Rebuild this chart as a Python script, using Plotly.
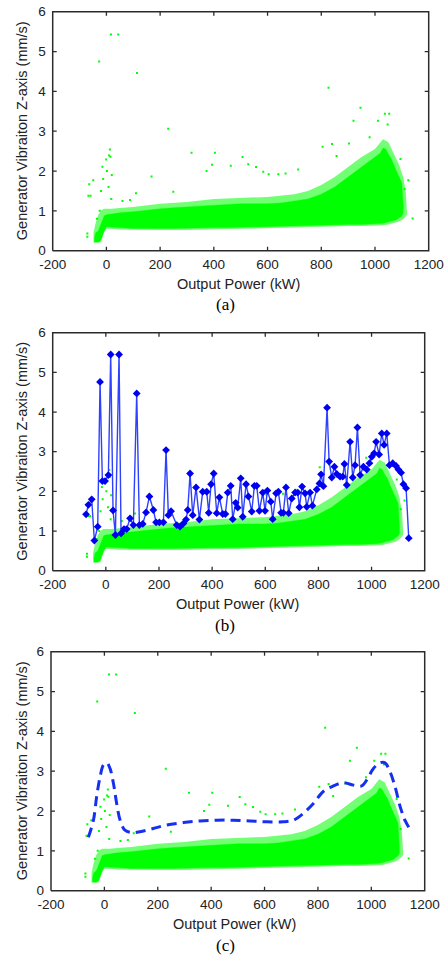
import plotly.graph_objects as go

# ---------------- data ----------------
# dense core of the green point cloud (envelope)
core_x = [-45, -40, -30, -22, -15, -8, 0, 20, 50, 100, 150, 200, 250, 300, 350, 400, 450, 500, 550,
          600, 650, 700, 750, 800, 850, 900, 950, 980, 1000, 1020, 1030, 1040, 1050, 1060, 1070, 1080,
          1090, 1100, 1105]
core_top = [0.30, 0.45, 0.50, 0.65, 0.80, 0.88, 0.90, 0.92, 0.95, 0.98, 1.02, 1.05, 1.08, 1.10, 1.12,
            1.15, 1.17, 1.18, 1.18, 1.18, 1.20, 1.25, 1.30, 1.42, 1.60, 1.85, 2.10, 2.25, 2.35, 2.45,
            2.58, 2.55, 2.42, 2.32, 2.15, 2.00, 1.85, 1.70, 1.10]
core_bot = [0.22, 0.22, 0.22, 0.25, 0.35, 0.50, 0.60, 0.60, 0.58, 0.56, 0.56, 0.56, 0.56, 0.56, 0.57,
            0.58, 0.58, 0.59, 0.60, 0.60, 0.61, 0.62, 0.63, 0.64, 0.65, 0.66, 0.66, 0.67, 0.67, 0.68,
            0.69, 0.70, 0.72, 0.74, 0.76, 0.78, 0.82, 0.88, 0.95]

# sparse halo around the core
halo_x = [-48, -40, -30, -20, -10, 0, 20, 50, 100, 200, 300, 400, 500, 600, 700, 750, 800, 850, 900,
          950, 1000, 1030, 1050, 1070, 1090, 1105, 1115, 1120]
halo_top = [0.45, 0.70, 0.90, 1.00, 1.05, 1.05, 1.05, 1.07, 1.10, 1.18, 1.22, 1.30, 1.32, 1.35, 1.42,
            1.50, 1.65, 1.85, 2.10, 2.35, 2.55, 2.80, 2.72, 2.45, 2.15, 1.85, 1.45, 0.85]
halo_bot = [0.20, 0.20, 0.20, 0.22, 0.45, 0.55, 0.55, 0.53, 0.52, 0.52, 0.52, 0.54, 0.55, 0.56, 0.58,
            0.59, 0.60, 0.61, 0.62, 0.62, 0.63, 0.64, 0.66, 0.69, 0.73, 0.79, 0.86, 0.92]

# isolated outlier points of the cloud
out_x = [17, 44, -27, 114, 827, 946, 230, 1037, 1053, 920, 1011, 1047, 317, 404, 13, 10, 15, -1, 393,
         463, 528, 507, 557, 168, 373, 584, 604, 640, 667, 714, 805, 840, 903, 1124, 1140, -64, -59,
         -67, -71, -71, -49, -15, 20, 110, 88, 249, -20, -12, 2, 8, 18, -25, -35, 60, 857, 980,
         1095, 1110]
out_y = [5.43, 5.43, 4.75, 4.46, 4.09, 3.59, 3.06, 3.44, 3.44, 3.26, 3.26, 3.17, 2.46, 2.46, 2.54,
         2.39, 2.36, 2.29, 2.16, 2.13, 2.17, 2.35, 2.10, 1.86, 2.00, 1.98, 1.92, 1.92, 1.94, 2.04,
         2.61, 2.68, 2.69, 1.77, 0.81, 1.67, 1.38, 1.38, 0.43, 0.35, 1.77, 2.11, 1.90, 1.44, 1.27,
         1.48, 1.50, 1.80, 2.00, 1.60, 1.30, 1.00, 0.80, 1.25, 2.38, 2.85, 2.30, 1.55]

# panel (b): maximum-value line
max_x = [-74.5, -65.7, -53.2, -43.2, -30.6, -21.8, -13.0, -3.0, 9.5, 18.3, 27.1, 35.9, 49.7, 57.2,
         68.5, 78.5, 91.1, 103.6, 116.2, 126.2, 138.8, 151.3, 163.9, 178.9, 189.0, 201.5, 216.6,
         226.6, 235.4, 245.4, 266.7, 279.3, 291.8, 301.9, 308.2, 317.0, 327.0, 339.5, 352.1, 364.6,
         379.7, 387.2, 396.0, 406.0, 417.3, 427.4, 439.9, 449.9, 458.7, 470.0, 477.5, 488.8, 496.4,
         507.6, 515.2, 527.7, 536.5, 549.1, 559.1, 567.9, 577.9, 590.5, 599.2, 608.0, 620.6, 628.1,
         640.7, 649.4, 659.5, 668.0, 678.0, 688.3, 699.6, 712.2, 722.2, 728.5, 738.5, 749.8, 756.1,
         768.6, 777.4, 793.7, 803.8, 810.0, 818.8, 832.6, 840.2, 850.2, 860.2, 869.0, 881.5, 891.6,
         897.9, 906.6, 919.2, 929.2, 938.0, 946.8, 956.9, 969.4, 982.0, 992.0, 1000.8, 1009.5,
         1017.1, 1028.4, 1038.4, 1047.2, 1057.2, 1067.3, 1079.8, 1092.3, 1101.1, 1111.2, 1119.9,
         1130.0, 1140.0]
max_y = [1.42, 1.66, 1.80, 0.76, 1.11, 4.76, 2.26, 2.26, 2.41, 5.45, 1.52, 0.90, 5.45, 0.94, 1.05,
         1.05, 1.32, 1.15, 4.47, 1.15, 1.18, 1.47, 1.87, 1.53, 1.22, 1.22, 1.22, 3.04, 1.40, 1.50,
         1.15, 1.11, 1.19, 1.29, 1.53, 2.45, 1.40, 2.10, 1.29, 1.99, 1.99, 1.46, 2.18, 2.45, 1.45,
         1.85, 1.43, 1.43, 1.97, 2.14, 1.30, 1.71, 1.59, 2.33, 1.36, 2.18, 1.87, 1.49, 2.14, 2.14,
         1.51, 1.97, 1.51, 2.02, 1.74, 1.30, 1.95, 1.99, 1.46, 1.46, 2.10, 1.45, 1.82, 1.97, 1.97,
         1.60, 2.12, 1.95, 1.61, 1.97, 1.64, 2.05, 2.20, 2.43, 2.13, 4.11, 2.75, 2.35, 2.62, 2.44,
         2.37, 2.37, 2.69, 2.16, 3.25, 2.35, 2.66, 3.61, 2.41, 2.62, 2.55, 2.71, 2.87, 2.96, 3.25,
         2.93, 3.46, 3.17, 3.46, 2.66, 2.71, 2.64, 2.55, 2.47, 2.18, 2.08, 0.82]

# panel (c): smooth upper-bound curve
bound_x = [-60, -41, -29, -16, -4, 9, 21, 34, 46, 59, 77, 102, 133, 183, 233, 296, 358, 421, 483,
           546, 608, 670, 708, 745, 783, 820, 858, 895, 933, 964, 983, 1008, 1033, 1051, 1070, 1089,
           1108, 1126, 1143]
bound_y = [1.34, 1.77, 2.36, 2.86, 3.15, 3.21, 3.07, 2.69, 2.19, 1.77, 1.52, 1.46, 1.48, 1.56, 1.65,
           1.71, 1.75, 1.77, 1.77, 1.75, 1.73, 1.73, 1.77, 1.94, 2.19, 2.49, 2.63, 2.71, 2.65, 2.63,
           2.78, 3.07, 3.21, 3.21, 2.99, 2.61, 2.11, 1.77, 1.56]

x_range = [-200, 1200]
y_range = [0, 6]
x_ticks = [-200, 0, 200, 400, 600, 800, 1000, 1200]
y_ticks = [0, 1, 2, 3, 4, 5, 6]
x_title = "Output Power (kW)"
y_title = "Generator Vibraiton Z-axis (mm/s)"
captions = ["(a)", "(b)", "(c)"]

# ---------------- figure ----------------
W, H = 446, 960
GREEN = "#00ff00"
FRAME = "#2b2b2b"
TICK_PX = 4
PAD_PX = 2.0          # plot area is grown by this much so the box line is not clipped
panels = [
    # (x0px, x1px, y0px(top), y1px(bottom)) of the axes box
    (52.7, 428.7, 11.7, 250.7),
    (52.7, 424.7, 332.7, 570.7),
    (51.0, 424.7, 651.7, 890.7),
]
xlabel_pos = [(238, 284), (237, 604), (235, 924)]
cap_pos = [(225, 305), (225, 625), (225, 945)]

fig = go.Figure()
layout = dict(template="none", width=W, height=H, margin=dict(l=0, r=0, t=0, b=0, pad=0),
              paper_bgcolor="white", plot_bgcolor="white", showlegend=False)
annotations = []
tickfont = dict(family="Liberation Sans, Arial", size=13.5, color="#222")

for i, (x0, x1, y0, y1) in enumerate(panels):
    sfx = "" if i == 0 else str(i + 1)
    xa, ya = "x" + sfx, "y" + sfx
    xr0, xr1 = x_range
    yr0, yr1 = y_range
    ux = (xr1 - xr0) / (x1 - x0)      # data units per pixel
    uy = (yr1 - yr0) / (y1 - y0)
    common = dict(showgrid=False, zeroline=False, showline=False, ticks="",
                  tickfont=tickfont, automargin=False)
    layout["xaxis" + sfx] = dict(domain=[(x0 - PAD_PX) / W, (x1 + PAD_PX) / W], anchor=ya,
                                 range=[xr0 - PAD_PX * ux, xr1 + PAD_PX * ux],
                                 tickmode="array", tickvals=x_ticks,
                                 ticktext=[str(v) for v in x_ticks], ticklabelstandoff=2, **common)
    layout["yaxis" + sfx] = dict(domain=[1 - (y1 + PAD_PX) / H, 1 - (y0 - PAD_PX) / H], anchor=xa,
                                 range=[yr0 - PAD_PX * uy, yr1 + PAD_PX * uy],
                                 tickmode="array", tickvals=y_ticks,
                                 ticktext=[str(v) for v in y_ticks], ticklabelstandoff=4, **common)

    # sparse halo of the point cloud
    fig.add_trace(go.Scatter(x=halo_x + halo_x[::-1], y=halo_top + halo_bot[::-1], mode="lines",
                             fill="toself", fillcolor="rgba(0,255,0,0.55)", line=dict(width=0),
                             xaxis=xa, yaxis=ya, hoverinfo="skip"))
    # dense core of the point cloud
    fig.add_trace(go.Scatter(x=core_x + core_x[::-1], y=core_top + core_bot[::-1], mode="lines",
                             fill="toself", fillcolor=GREEN, line=dict(width=0.6, color="rgba(0,255,0,0.6)"),
                             xaxis=xa, yaxis=ya, hoverinfo="skip"))
    # outliers
    fig.add_trace(go.Scatter(x=out_x, y=out_y, mode="markers",
                             marker=dict(symbol="square", size=2, color=GREEN, line=dict(width=0)),
                             xaxis=xa, yaxis=ya))

    if i == 1:
        fig.add_trace(go.Scatter(x=max_x, y=max_y, mode="lines+markers",
                                 line=dict(color="rgb(45,65,255)", width=1.4),
                                 marker=dict(symbol="diamond", size=6, color="#0000f0"),
                                 xaxis=xa, yaxis=ya))
    if i == 2:
        fig.add_trace(go.Scatter(x=bound_x, y=bound_y, mode="lines", line_shape="spline",
                                 line=dict(color="#1530f0", width=3, dash="10px,6px"),
                                 xaxis=xa, yaxis=ya))

    # axes box (MATLAB style), now fully inside the clip region
    fig.add_trace(go.Scatter(x=[xr0, xr1, xr1, xr0, xr0], y=[yr0, yr0, yr1, yr1, yr0], mode="lines",
                             line=dict(color=FRAME, width=1.5), xaxis=xa, yaxis=ya, hoverinfo="skip"))
    # inward tick marks on all four sides
    tx = TICK_PX * ux
    ty = TICK_PX * uy
    for v in x_ticks[1:-1]:
        for seg in ([yr0, yr0 + ty], [yr1, yr1 - ty]):
            fig.add_trace(go.Scatter(x=[v, v], y=seg, mode="lines", line=dict(color=FRAME, width=1.3),
                                     xaxis=xa, yaxis=ya, hoverinfo="skip"))
    for v in y_ticks[1:-1]:
        for seg in ([xr0, xr0 + tx], [xr1, xr1 - tx]):
            fig.add_trace(go.Scatter(x=seg, y=[v, v], mode="lines", line=dict(color=FRAME, width=1.3),
                                     xaxis=xa, yaxis=ya, hoverinfo="skip"))

    lx, ly = xlabel_pos[i]
    annotations.append(dict(text=x_title, x=lx / W, y=1 - ly / H, xref="paper", yref="paper",
                            showarrow=False, xanchor="center", yanchor="middle",
                            font=dict(family="Liberation Sans, Arial", size=14.5, color="#222")))
    cx, cy = cap_pos[i]
    annotations.append(dict(text=captions[i], x=cx / W, y=1 - cy / H, xref="paper", yref="paper",
                            showarrow=False, xanchor="center", yanchor="middle",
                            font=dict(family="Liberation Serif, Times New Roman", size=17, color="black")))
    annotations.append(dict(text=y_title, x=22 / W, y=1 - ((y0 + y1) / 2) / H, xref="paper",
                            yref="paper", showarrow=False, textangle=-90, xanchor="center",
                            yanchor="middle",
                            font=dict(family="Liberation Sans, Arial", size=14.5, color="#222")))

layout["annotations"] = annotations
fig.update_layout(**layout)
fig.write_html("out.html")
